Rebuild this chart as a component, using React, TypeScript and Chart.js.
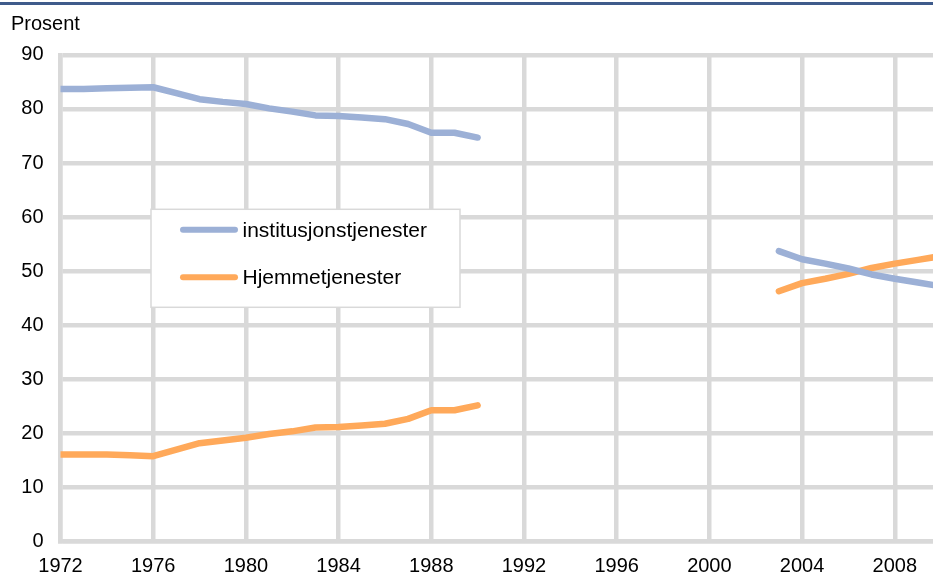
import { useEffect, useRef } from "react";
import { Chart, registerables } from "chart.js";

Chart.register(...registerables);

const years = [
  1972, 1973, 1974, 1975, 1976, 1977, 1978, 1979, 1980, 1981, 1982, 1983, 1984,
  1985, 1986, 1987, 1988, 1989, 1990, 1991, 1992, 1993, 1994, 1995, 1996, 1997,
  1998, 1999, 2000, 2001, 2002, 2003, 2004, 2005, 2006, 2007, 2008, 2009, 2010,
];

const institusjonstjenester = [
  83.7, 83.7, 83.8, 83.9, 84.0, 82.9, 81.8, 81.3, 80.9, 80.1, 79.5, 78.8, 78.7,
  78.4, 78.1, 77.2, 75.6, 75.6, 74.7, null, null, null, null, null, null, null,
  null, null, null, null, null, 53.7, 52.2, 51.4, 50.5, 49.4, 48.6, 47.9, 47.2,
];

const hjemmetjenester = [
  16.1, 16.1, 16.1, 16.0, 15.8, 17.0, 18.2, 18.7, 19.2, 19.9, 20.4, 21.1, 21.2,
  21.5, 21.8, 22.7, 24.3, 24.3, 25.2, null, null, null, null, null, null, null,
  null, null, null, null, null, 46.3, 47.8, 48.6, 49.5, 50.6, 51.4, 52.1, 52.8,
];

const seriesLabels = ["institusjonstjenester", "Hjemmetjenester"];
const xTicks = [1972, 1976, 1980, 1984, 1988, 1992, 1996, 2000, 2004, 2008];
const yTicks = [0, 10, 20, 30, 40, 50, 60, 70, 80, 90];
const xMin = 1972;
const xMax = 2009.65;
const yMin = 0;
const yMax = 90;
const yTitle = "Prosent";

const BLUE = "#9cb0d6";
const ORANGE = "#ffa95a";
const GRID = "#d9d9d9";
const FONT = "'Liberation Sans', Arial, sans-serif";

const topRulePlugin = {
  id: "topRule",
  afterDraw(chart: any) {
    const ctx = chart.ctx;
    ctx.save();
    ctx.fillStyle = "#3f5b8b";
    ctx.fillRect(0, 2, chart.width, 3);
    ctx.restore();
  },
};

const boxLegendPlugin = {
  id: "boxLegend",
  afterDraw(chart: any) {
    const ctx = chart.ctx;
    const ca = chart.chartArea;
    const x0 = ca.left + 90.5;
    const y0 = ca.top + 154.5;
    const w = 309;
    const h = 98;
    ctx.save();
    ctx.fillStyle = "#ffffff";
    ctx.fillRect(x0, y0, w, h);
    ctx.strokeStyle = GRID;
    ctx.lineWidth = 1.5;
    ctx.strokeRect(x0, y0, w, h);
    const rows = [20.5, 68];
    chart.data.datasets.forEach((ds: any, i: number) => {
      const y = y0 + rows[i];
      ctx.strokeStyle = ds.borderColor;
      ctx.lineWidth = 6;
      ctx.lineCap = "round";
      ctx.beginPath();
      ctx.moveTo(x0 + 32, y);
      ctx.lineTo(x0 + 84, y);
      ctx.stroke();
      ctx.fillStyle = "#000000";
      ctx.font = `21px ${FONT}`;
      ctx.textAlign = "left";
      ctx.textBaseline = "middle";
      ctx.fillText(ds.label, x0 + 91.5, y + 1);
    });
    ctx.restore();
  },
};

export default function App() {
  const ref = useRef<HTMLCanvasElement | null>(null);

  useEffect(() => {
    if (!ref.current) return;
    const makeData = (vals: (number | null)[]) =>
      years.map((yr, i) => ({ x: yr, y: vals[i] }));
    const chart = new Chart(ref.current, {
      type: "line",
      data: {
        datasets: [
          {
            label: seriesLabels[0],
            data: makeData(institusjonstjenester) as any,
            borderColor: BLUE,
            backgroundColor: BLUE,
            borderWidth: 6.5,
            pointRadius: 0,
            tension: 0,
            spanGaps: false,
            borderCapStyle: "round",
            borderJoinStyle: "round",
          },
          {
            label: seriesLabels[1],
            data: makeData(hjemmetjenester) as any,
            borderColor: ORANGE,
            backgroundColor: ORANGE,
            borderWidth: 6.5,
            pointRadius: 0,
            tension: 0,
            spanGaps: false,
            borderCapStyle: "round",
            borderJoinStyle: "round",
          },
        ],
      },
      options: {
        responsive: false,
        animation: false,
        layout: { padding: { left: 11, right: 0, top: 0, bottom: 0 } },
        plugins: {
          legend: { display: false },
          tooltip: { enabled: false },
          title: {
            display: true,
            text: yTitle,
            align: "start",
            color: "#000000",
            font: { family: FONT, size: 20, weight: "normal" },
            padding: { top: 12, bottom: 18.8 },
          },
        },
        scales: {
          x: {
            type: "linear",
            min: xMin,
            max: xMax,
            afterBuildTicks: (s: any) => {
              s.ticks = xTicks.map((v) => ({ value: v }));
            },
            afterFit: (s: any) => {
              s.height = 34.3;
            },
            grid: { color: GRID, lineWidth: 4.5, drawTicks: false },
            border: { display: true, color: GRID, width: 4.5 },
            ticks: {
              color: "#000000",
              padding: 12.6,
              maxRotation: 0,
              autoSkip: false,
              font: { family: FONT, size: 20 },
              callback: (v: any) => String(v),
            },
          },
          y: {
            type: "linear",
            min: yMin,
            max: yMax,
            afterBuildTicks: (s: any) => {
              s.ticks = yTicks.map((v) => ({ value: v }));
            },
            afterFit: (s: any) => {
              s.width = 49.5;
            },
            grid: { color: GRID, lineWidth: 4.5, drawTicks: false },
            border: { display: true, color: GRID, width: 4.5 },
            ticks: {
              color: "#000000",
              padding: 17,
              font: { family: FONT, size: 20 },
              callback: (v: any) => String(v),
            },
          },
        },
      },
      plugins: [topRulePlugin, boxLegendPlugin],
    });
    return () => chart.destroy();
  }, []);

  return (
    <div style={{ position: "absolute", left: 0, top: 0, width: 933, height: 576, background: "#ffffff" }}>
      <canvas ref={ref} width={933} height={576} style={{ display: "block" }} />
    </div>
  );
}
